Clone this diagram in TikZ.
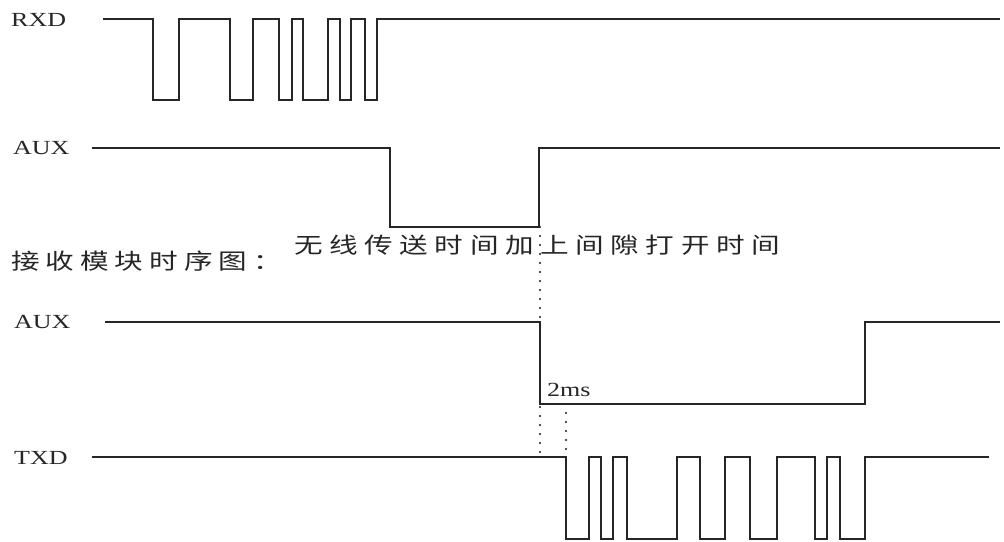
\documentclass[tikz,border=0pt]{standalone}
\usepackage{fontspec}
\setmainfont{Liberation Serif}
\newfontfamily\latinlbl{Liberation Serif}
\newfontfamily\cjkA[LetterSpace=21]{Noto Sans CJK SC}
\newfontfamily\cjkB[LetterSpace=23]{Noto Sans CJK SC}
\newcommand{\wideTxt}[1]{\scalebox{1.3}[1]{#1}}
\tikzset{
  wave/.style={line width=1.4pt, draw=black!85, line join=miter},
  dotline/.style={line width=2.1pt, draw=black!90, line cap=round, dash pattern=on 0pt off 9pt},
  siglbl/.style={anchor=west, inner sep=0pt, text=black!85, font=\latinlbl\fontsize{20}{22}\selectfont},
  cjklbl/.style={anchor=west, inner sep=0pt, text=black!85}
}
\begin{document}
\begin{tikzpicture}[x=1pt,y=-1pt]
\fill[white] (0,0) rectangle (1004,541);
\useasboundingbox (0,0) rectangle (1004,541);
% labels
\node[siglbl] (lrxd) at (11,19.5) {\wideTxt{RXD}};
\node[siglbl] (laux1) at (13,148) {\wideTxt{AUX}};
\node[siglbl] (laux2) at (14,322) {\wideTxt{AUX}};
\node[siglbl] (ltxd) at (14,458) {\wideTxt{TXD}};
\node[siglbl] (l2ms) at (547,390) {\wideTxt{2ms}};
\node[cjklbl, font=\cjkB\fontsize{22}{24}\selectfont] (note) at (294,245) {\wideTxt{无线传送时间加上间隙打开时间}};
\node[cjklbl, font=\cjkA\fontsize{22}{24}\selectfont] (title) at (11,261) {\wideTxt{接收模块时序图：}};
% dotted guides
\coordinate (d1a) at (540,227);
\coordinate (d1b) at (540,457);
\coordinate (d2a) at (566,404);
\coordinate (d2b) at (566,457);
\draw[dotline] (d1a) -- (d1b);
\draw[dotline] (d2a) -- (d2b);
% RXD
\draw[wave] (103,19) -| (153,100) -| (179,19) -| (230,100) -| (253,19) -| (279,100) -| (292,19) -| (303,100) -| (328,19) -| (340,100) -| (351,19) -| (365,100) -| (377,19) -- (1000,19);
% AUX (sender)
\draw[wave] (92,148) -| (390,227) -| (539,148) -- (1000,148);
% AUX (receiver)
\draw[wave] (105,322) -| (540,404) -| (865,322) -- (1000,322);
% TXD
\draw[wave] (92,457) -| (566,539) -| (589,457) -| (601,539) -| (613,457) -| (627,539) -| (677,457) -| (700,539) -| (725,457) -| (750,539) -| (777,457) -| (815,539) -| (827,457) -| (840,539) -| (865,457) -- (989,457);
\end{tikzpicture}
\end{document}
